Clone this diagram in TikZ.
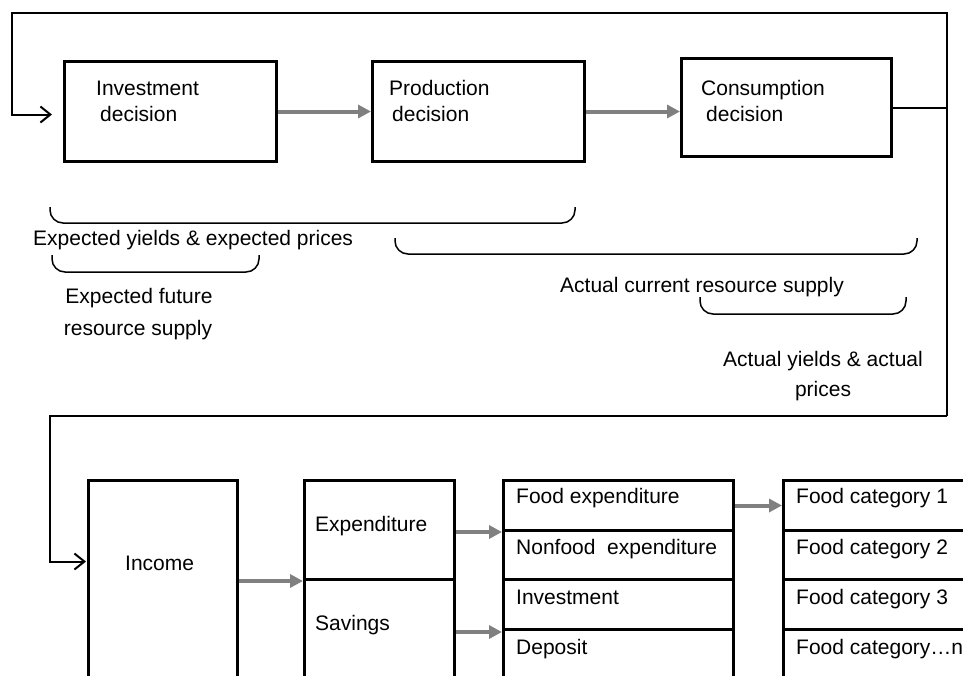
\documentclass[tikz,border=0pt]{standalone}
\usepackage{fontspec}
\setmainfont{Liberation Sans}
\usetikzlibrary{arrows.meta,calc}
\definecolor{arrgray}{RGB}{128,128,128}
\begin{document}
\begin{tikzpicture}[x=1pt,y=-1pt,
  box/.style={draw, line width=3pt, inner sep=0pt, anchor=north west},
  lbl/.style={anchor=base west, inner sep=0pt, font=\fontsize{21}{25}\selectfont},
  clbl/.style={anchor=base, inner sep=0pt, font=\fontsize{21}{25}\selectfont},
  garrow/.style={draw=arrgray, line width=4pt, -{Triangle[length=13pt,width=13pt]}},
  loopline/.style={draw=black, line width=2pt},
  looparrow/.style={loopline, -{Straight Barb[length=10pt,width=16pt]}},
  bracket/.style={draw, line width=1.5pt, rounded corners=13pt}]
\useasboundingbox (0,0) rectangle (963,675);
\clip (0,0) rectangle (963,675);

% top boxes
\node[box, minimum width=212pt, minimum height=100pt] (inv) at (63,60) {};
\node[box, minimum width=212pt, minimum height=100pt] (prod) at (371,60) {};
\node[box, minimum width=210pt, minimum height=98pt] (cons) at (680,57) {};

\node[lbl] (tinv1) at (96,95) {Investment};
\node[lbl] (tinv2) at (100,121) {decision};
\node[lbl] (tprod1) at (389,95) {Production};
\node[lbl] (tprod2) at (392,121) {decision};
\node[lbl] (tcons1) at (701,95) {Consumption};
\node[lbl] (tcons2) at (706,121) {decision};

\draw[garrow] (inv.east) -- (inv.east -| prod.west);
\draw[garrow] (prod.east) -- (prod.east -| cons.west);

% loop coordinates
\coordinate (tl) at (12,13);
\coordinate (tr) at (947,13);
\coordinate (br) at (947,416);
\coordinate (bl) at (50,416);

\draw[loopline] (cons.east) -- (cons.east -| tr);
\draw[looparrow, shorten >=11pt] (br) -- (tr) -- (tl) |- ([yshift=-3pt]inv.west);

% brackets
\draw[bracket] (50,207) -- (50,223) -- (575,223) -- (575,207);
\draw[bracket] (395,238) -- (395,254) -- (917,254) -- (917,238);
\draw[bracket] (52,255) -- (52,272) -- (259,272) -- (259,255);
\draw[bracket] (700,297) -- (700,314) -- (906,314) -- (906,297);

\node[lbl] (eyp) at (33,245) {Expected yields \& expected prices};
\node[clbl] (efs1) at (139,303) {Expected future};
\node[clbl] (efs2) at (138,335) {resource supply};
\node[lbl] (acr) at (560,292) {Actual current resource supply};
\node[clbl] (ay1) at (823,366) {Actual yields \& actual};
\node[clbl] (ay2) at (823,396) {prices};

% lower boxes
\node[box, minimum width=149pt, minimum height=240pt] (inc) at (87,479) {};
\node[lbl] (tinc) at (125,570) {Income};
\draw[looparrow, shorten >=1pt] (br) -- (bl) |- ([yshift=39pt]inc.west);

\node[box, minimum width=150pt, minimum height=99pt] (exp) at (303,479) {};
\node[box, minimum width=150pt, minimum height=140pt] (sav) at (303,578) {};
\node[lbl] (texp) at (315,531) {Expenditure};
\node[lbl] (tsav) at (315,630) {Savings};

\node[box, minimum width=230pt, minimum height=50pt] (fe) at (502,479) {};
\node[box, minimum width=230pt, minimum height=49pt] (nfe) at (502,529) {};
\node[box, minimum width=230pt, minimum height=50pt] (ivs) at (502,578) {};
\node[box, minimum width=230pt, minimum height=90pt] (dep) at (502,628) {};
\node[lbl] (tfe) at (516,503) {Food expenditure};
\node[lbl] (tnfe) at (516,554) {Nonfood\ \ expenditure};
\node[lbl] (tivs) at (516,604) {Investment};
\node[lbl] (tdep) at (516,654) {Deposit};

\node[box, minimum width=230pt, minimum height=50pt] (fc1) at (782,479) {};
\node[box, minimum width=230pt, minimum height=49pt] (fc2) at (782,529) {};
\node[box, minimum width=230pt, minimum height=50pt] (fc3) at (782,578) {};
\node[box, minimum width=230pt, minimum height=90pt] (fcn) at (782,628) {};
\node[lbl] (tfc1) at (796,503) {Food category 1};
\node[lbl] (tfc2) at (796,554) {Food category 2};
\node[lbl] (tfc3) at (796,604) {Food category 3};
\node[lbl] (tfcn) at (796,654) {Food category…n};

\draw[garrow] (inc.east |- exp.south west) -- (exp.south west);
\draw[garrow] (exp.east |- fe.south west) -- (fe.south west);
\coordinate (dtip) at ($(dep.north west)+(0,4)$);
\draw[garrow] (sav.east |- dtip) -- (dtip);
\draw[garrow] (fe.east) -- (fe.east -| fc1.west);
\end{tikzpicture}
\end{document}
